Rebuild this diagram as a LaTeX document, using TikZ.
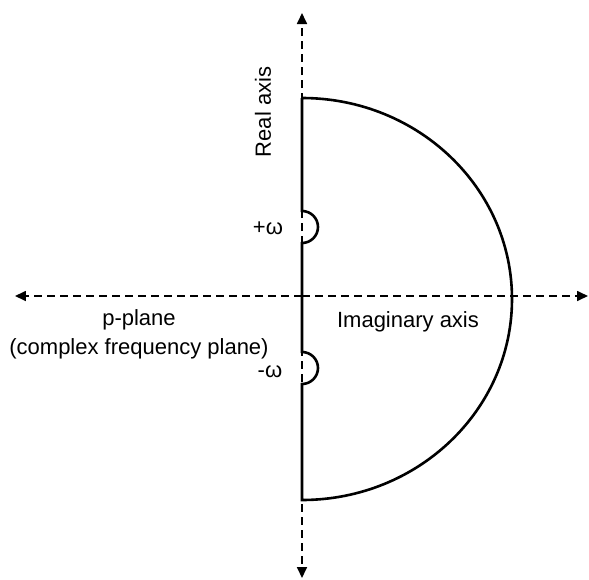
\documentclass[tikz,border=0pt]{standalone}
\usepackage{fontspec}
\setmainfont{Liberation Sans}
\usetikzlibrary{arrows.meta,positioning,calc}

\begin{document}
\begin{tikzpicture}[x=0.5pt, y=0.5pt,
  axisline/.style={dashed, dash pattern=on 4pt off 2.5pt, line width=0.85pt, -{Triangle[length=5.5pt,width=5pt]}},
  contour/.style={line width=1.3pt},
  lbl/.style={font=\fontsize{11}{13}\selectfont, inner sep=0pt}
]
\useasboundingbox (-302,-283) rectangle (287,296);
% axes
\coordinate (origin) at (0,0);
\coordinate (up) at (0,283);
\coordinate (down) at (0,-282);
\coordinate (west) at (-287,0);
\coordinate (east) at (286,0);
\draw[axisline] (origin) -- (up);
\draw[axisline] (origin) -- (down);
\draw[axisline] (origin) -- (west);
\draw[axisline] (origin) -- (east);
% contour with the two indentations
\draw[contour] (0,198) -- (0,85) arc[start angle=90, end angle=-90, radius=16]
  -- (0,-56) arc[start angle=90, end angle=-90, radius=16]
  -- (0,-204) arc[start angle=-90, end angle=90, x radius=210, y radius=201];
% labels
\node[lbl, rotate=90] (real) at (-39,184) {Real axis};
\node[lbl] (imag) at (106,-26) {Imaginary axis};
\node[lbl] (pluso) at (-34,68) {+ω};
\node[lbl] (minuso) at (-32,-76) {-ω};
\node[lbl] (pplane) at (-163,-24) {p-plane};
\node[lbl, below=4pt of pplane] (cplane) {(complex frequency plane)};
\end{tikzpicture}
\end{document}
